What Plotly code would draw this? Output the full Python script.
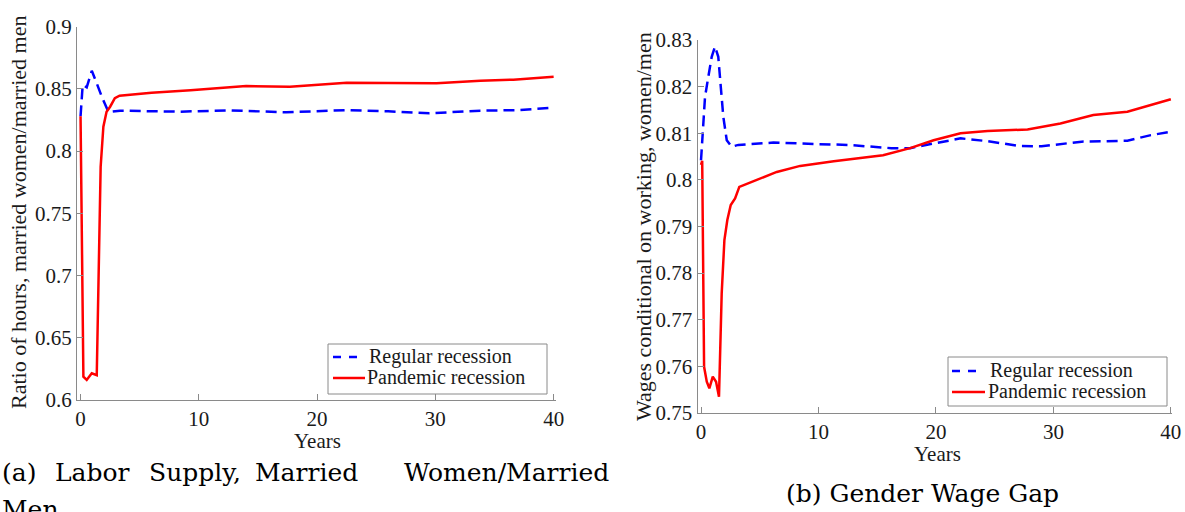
import plotly.graph_objects as go

# ---------------- data ----------------
# Panel (a): ratio of hours, married women / married men
a_reg_t = [0, 0.18, 0.52, 0.95, 1.37, 1.8, 2.35, 2.64, 3.34, 5, 8.4, 12.6, 17.4, 22.5, 26, 29.5, 33.8, 37, 40]
a_reg_v = [0.828, 0.8532, 0.8513, 0.8646, 0.8545, 0.8437, 0.8317, 0.8317, 0.8325, 0.8322, 0.8317,
           0.8328, 0.8312, 0.8330, 0.8320, 0.8304, 0.8325, 0.8330, 0.8349]
a_pan_t = [0, 0.24, 0.52, 0.95, 1.37, 1.7, 1.93, 2.2, 2.5, 2.9, 3.3, 6, 9.3, 14, 17.7, 22.5, 26, 30.1,
           33.8, 36.6, 40]
a_pan_v = [0.828, 0.6187, 0.6161, 0.6215, 0.6200, 0.7875, 0.8196, 0.8317, 0.8357, 0.8425, 0.8446,
           0.8470, 0.8490, 0.8523, 0.8518, 0.8550, 0.8547, 0.8545, 0.8566, 0.8574, 0.8598]

# Panel (b): wages conditional on working, women / men
b_reg_t = [0, 0.15, 0.34, 0.62, 0.91, 1.19, 1.47, 1.68, 1.9, 2.19, 2.61, 3.18, 6.16, 9.6, 12.5, 16.2,
           17.8, 19.8, 22.1, 24.4, 27, 29, 32.4, 36.3, 38.3, 40]
b_reg_v = [0.8042, 0.8114, 0.8178, 0.8221, 0.8264, 0.8286, 0.8264, 0.8200, 0.8135, 0.8085, 0.8071,
           0.8075, 0.8080, 0.8077, 0.8075, 0.8068, 0.8068, 0.8078, 0.8089, 0.8083, 0.8073, 0.8072,
           0.8082, 0.8084, 0.8096, 0.8103]
b_pan_t = [0, 0.1, 0.26, 0.49, 0.71, 1.0, 1.28, 1.53, 1.76, 1.99, 2.24, 2.53, 2.9, 3.26, 4.75, 6.45,
           8.44, 11.3, 15.5, 17.8, 19.8, 22.1, 24.4, 27.8, 30.6, 33.4, 36.3, 38.3, 40]
b_pan_v = [0.8032, 0.8041, 0.7599, 0.7567, 0.7553, 0.7578, 0.7567, 0.7535, 0.7756, 0.7871, 0.7914,
           0.7946, 0.7960, 0.7985, 0.8000, 0.8017, 0.8030, 0.8040, 0.8053, 0.8068, 0.8085, 0.8100,
           0.8105, 0.8108, 0.8121, 0.8139, 0.8146, 0.8161, 0.8173]

series_names = ["Regular recession", "Pandemic recession"]
a_yticks = [0.6, 0.65, 0.7, 0.75, 0.8, 0.85, 0.9]
a_yticklabels = ["0.6", "0.65", "0.7", "0.75", "0.8", "0.85", "0.9"]
b_yticks = [0.75, 0.76, 0.77, 0.78, 0.79, 0.8, 0.81, 0.82, 0.83]
b_yticklabels = ["0.75", "0.76", "0.77", "0.78", "0.79", "0.8", "0.81", "0.82", "0.83"]
xticks = [0, 10, 20, 30, 40]

# ---------------- styles ----------------
FONT = "Liberation Serif, Times New Roman, serif"
CAPFONT = "DejaVu Serif, serif"
BLUE = "#0000ff"
RED = "#ff0000"
AXC = "#8a8a8a"
TXT = "#1a1a1a"
W, H = 1185, 512

fig = go.Figure()
reg_line = dict(color=BLUE, width=2.5, dash="11px,6px")
pan_line = dict(color=RED, width=2.5)

fig.add_trace(go.Scatter(x=a_reg_t, y=a_reg_v, mode="lines", line=reg_line, name=series_names[0],
                         xaxis="x", yaxis="y", showlegend=False))
fig.add_trace(go.Scatter(x=a_pan_t, y=a_pan_v, mode="lines", line=pan_line, name=series_names[1],
                         xaxis="x", yaxis="y", showlegend=False))
fig.add_trace(go.Scatter(x=b_reg_t, y=b_reg_v, mode="lines", line=reg_line, name=series_names[0],
                         xaxis="x2", yaxis="y2", showlegend=False))
fig.add_trace(go.Scatter(x=b_pan_t, y=b_pan_v, mode="lines", line=pan_line, name=series_names[1],
                         xaxis="x2", yaxis="y2", showlegend=False))


def px_x(p):
    return p / W


def px_y(p):
    return 1 - p / H


axis_common = dict(showline=True, linecolor=AXC, linewidth=1, ticks="inside", ticklen=6,
                   tickcolor=AXC, showgrid=False, zeroline=False, automargin=False,
                   tickfont=dict(family=FONT, size=21, color=TXT))

fig.update_layout(
    template="none",
    width=W, height=H, margin=dict(l=0, r=0, t=0, b=0, pad=0),
    paper_bgcolor="white", plot_bgcolor="white",
    xaxis=dict(domain=[px_x(77), px_x(556)], range=[-0.3, 40.2], tickvals=xticks,
               anchor="y", **axis_common),
    yaxis=dict(domain=[px_y(400), px_y(26.7)], range=[0.6, 0.9], tickvals=a_yticks,
               ticktext=a_yticklabels, anchor="x", **axis_common),
    xaxis2=dict(domain=[px_x(697.5), px_x(1172)], range=[-0.3, 40.1], tickvals=xticks,
                anchor="y2", **axis_common),
    yaxis2=dict(domain=[px_y(413), px_y(40)], range=[0.75, 0.83], tickvals=b_yticks,
                ticktext=b_yticklabels, anchor="x2", **axis_common),
    showlegend=False,
)

shapes = []
ann = []

# custom legends (box, line samples, labels)
legends = [
    dict(box=(328, 344, 547, 394), y1=357, y2=378, x0=333, xd=357, xs=365, tx=367),
    dict(box=(948, 357, 1167, 406), y1=371, y2=392, x0=952, xd=978, xs=985, tx=988),
]
for lg in legends:
    bx0, by0, bx1, by1 = lg["box"]
    shapes.append(dict(type="rect", xref="paper", yref="paper",
                       x0=px_x(bx0), x1=px_x(bx1), y0=px_y(by1), y1=px_y(by0),
                       line=dict(color=AXC, width=1), fillcolor="white", layer="above"))
    shapes.append(dict(type="line", xref="paper", yref="paper",
                       x0=px_x(lg["x0"]), x1=px_x(lg["xd"]), y0=px_y(lg["y1"]), y1=px_y(lg["y1"]),
                       line=dict(color=BLUE, width=2.5, dash="8px,8px"), layer="above"))
    shapes.append(dict(type="line", xref="paper", yref="paper",
                       x0=px_x(lg["x0"]), x1=px_x(lg["xs"]), y0=px_y(lg["y2"]), y1=px_y(lg["y2"]),
                       line=dict(color=RED, width=2.5), layer="above"))
    ann.append(dict(text=series_names[0], x=px_x(lg["tx"]), y=px_y(lg["y1"] - 1), xanchor="left",
                    font=dict(family=FONT, size=20, color=TXT)))
    ann.append(dict(text=series_names[1], x=px_x(lg["tx"] - 2), y=px_y(lg["y2"] - 1), xanchor="left",
                    font=dict(family=FONT, size=20, color=TXT)))

# axis titles
ann.append(dict(text="Ratio of hours, married women/married men", x=px_x(18), y=px_y(213),
                textangle=-90, font=dict(family=FONT, size=22, color=TXT)))
ann.append(dict(text="Wages conditional on working, women/men", x=px_x(643), y=px_y(227),
                textangle=-90, font=dict(family=FONT, size=22, color=TXT)))
ann.append(dict(text="Years", x=px_x(317), y=px_y(441), font=dict(family=FONT, size=21, color=TXT)))
ann.append(dict(text="Years", x=px_x(937), y=px_y(454), font=dict(family=FONT, size=21, color=TXT)))

# captions
cap_font = dict(family=CAPFONT, size=25, color="#000000")
cap_words = [("(a)", 0, "left"), ("Labor", 53, "left"), ("Supply,", 147, "left"),
             ("Married", 253, "left"), ("Women/Married", 611, "right")]
for word, xp, anc in cap_words:
    ann.append(dict(text=word, x=px_x(xp), y=px_y(472), xanchor=anc, font=cap_font))
ann.append(dict(text="Men", x=px_x(0), y=px_y(509), xanchor="left", font=cap_font))
ann.append(dict(text="(b) Gender Wage Gap", x=px_x(922), y=px_y(493), font=cap_font))

for a in ann:
    a.setdefault("xanchor", "center")
    a.update(xref="paper", yref="paper", yanchor="middle", showarrow=False)
fig.update_layout(annotations=ann, shapes=shapes)

fig.write_html("out.html", config={"displayModeBar": False},
               post_script="document.body.style.margin='0';document.body.style.overflow='hidden';")
